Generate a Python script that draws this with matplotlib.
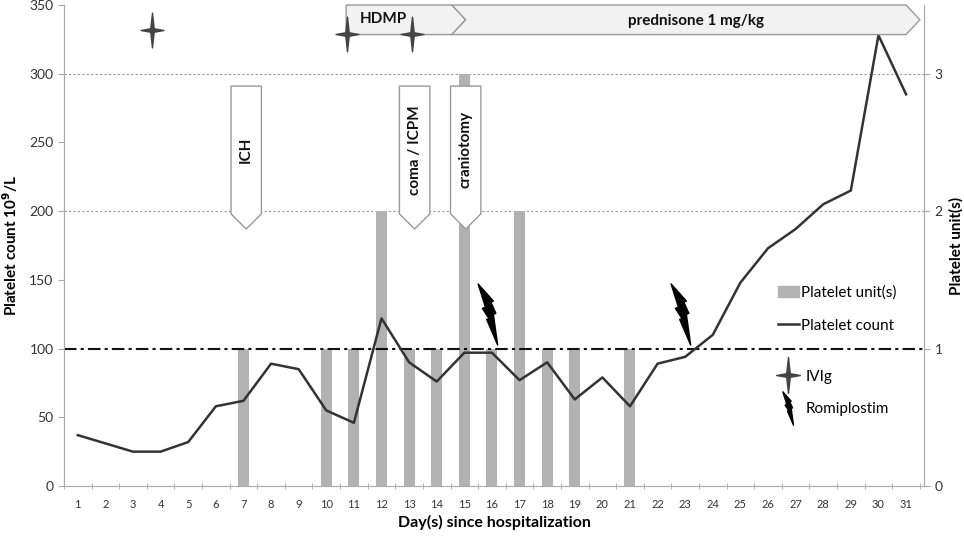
import matplotlib.pyplot as plt
import numpy as np
from matplotlib.path import Path
from matplotlib.patches import Polygon, Patch
from matplotlib.lines import Line2D

plt.rcParams['font.family'] = ['Lato', 'DejaVu Sans']

# data
days = np.arange(1, 32)
platelet_count = [37, 31, 25, 25, 32, 58, 62, 89, 85, 55, 46, 122, 90, 76, 97,
                  97, 77, 90, 63, 79, 58, 89, 94, 110, 148, 173, 187, 205, 215, 328, 285]
unit_days = [7, 10, 11, 12, 13, 14, 15, 16, 17, 18, 19, 21]
units = [1, 1, 1, 2, 1, 1, 3, 1, 2, 1, 1, 1]

ivig_days = [3.7, 10.75, 13.1]
ivig_level = [332, 329, 329]
romi_days = [15.85, 22.85]
romi_level = [125, 125]

event_days = [7.1, 13.2, 15.05]
event_labels = ['ICH', 'coma / ICPM', 'craniotomy']

treat_labels = ['HDMP', 'prednisone 1 mg/kg']
treat_start = [10.72, 14.55]
treat_end = [14.55, 31.0]

# marker shapes
star = Path([(0, 0.5), (0.05, 0.05), (0.33, 0), (0.05, -0.05), (0, -0.5),
             (-0.05, -0.05), (-0.33, 0), (-0.05, 0.05), (0, 0.5)],
            [Path.MOVETO] + [Path.LINETO] * 7 + [Path.CLOSEPOLY])
bolt = Path([(-0.17, 0.5), (0.08, 0.22), (0.04, 0.2), (0.12, 0.02), (0.08, 0.0),
             (0.15, -0.5), (-0.03, -0.08), (0.01, -0.07), (-0.1, 0.1), (-0.05, 0.12),
             (-0.17, 0.5)],
            [Path.MOVETO] + [Path.LINETO] * 9 + [Path.CLOSEPOLY])

fig = plt.figure(figsize=(9.64, 5.41), dpi=100)
ax = fig.add_axes([64 / 964, 1 - 486 / 541, 860 / 964, 481 / 541])
ax2 = ax.twinx()
ax.set_zorder(ax2.get_zorder() + 1)
ax.patch.set_visible(False)

# right axis: units + grid
ax2.bar(unit_days, units, width=0.4, color='#b2b2b2', zorder=2)
ax2.set_ylim(0, 3.5)
ax2.set_yticks([0, 1, 2, 3])
for v in [2, 3]:
    ax2.axhline(v, color='#999999', lw=0.8, ls=(0, (2, 2)), zorder=1)
ax2.axhline(1, color='#111111', lw=1.5, ls=(0, (6, 2, 1.5, 2)), zorder=3)

# left axis: platelet count
ax.plot(days, platelet_count, color='#333333', lw=1.8, zorder=4)
ax.set_xlim(0.5, 31.65)
ax.set_ylim(0, 350)
ax.set_yticks(np.arange(0, 351, 50))
ax.set_xticks(days)
ax.set_xticks(np.arange(0.5, 32, 1), minor=True)

for a in (ax, ax2):
    a.spines['top'].set_visible(False)
    for s in a.spines.values():
        s.set_color('#aaaaaa')
ax.spines['bottom'].set_linestyle((0, (2, 1)))
ax2.spines['bottom'].set_visible(False)
ax.tick_params(axis='y', colors='#aaaaaa', labelcolor='#333333', labelsize=10, length=4)
ax.tick_params(axis='x', which='major', length=0, labelsize=8, labelcolor='#333333', pad=9)
ax.tick_params(axis='x', which='minor', length=4, direction='inout', color='#aaaaaa')
ax2.tick_params(axis='y', colors='#aaaaaa', labelcolor='#333333', labelsize=10, length=4)

ax.set_xlabel('Day(s) since hospitalization', fontsize=11.5, fontweight='bold', labelpad=4)
ax.set_ylabel(r'Platelet count 10$^{\mathbf{9}}$/L', fontsize=11, fontweight='bold')
ax2.set_ylabel('Platelet unit(s)', fontsize=11, fontweight='bold')
ax.yaxis.set_label_coords(-0.051, 0.5)
ax2.yaxis.set_label_coords(1.029, 0.5)

# markers
ax.plot(ivig_days, ivig_level, ls='none', marker=star, ms=25, color='#444444', zorder=6, clip_on=False)
ax.plot(romi_days, romi_level, ls='none', marker=bolt, ms=44, color='#000000', zorder=6)

# event arrows (pointing down)
hw, top, body, tip = 0.55, 291, 198, 187
for d, lab in zip(event_days, event_labels):
    poly = Polygon([(d - hw, top), (d + hw, top), (d + hw, body), (d, tip), (d - hw, body)],
                   closed=True, fc='white', ec='#999999', lw=1, zorder=7)
    ax.add_patch(poly)
    ax.text(d, (top + body) / 2, lab, rotation=90, ha='center', va='center',
            fontsize=11, fontweight='bold', color='#111111', zorder=8)

# treatment chevrons
y0, y1, dep = 328.5, 350, 0.5
ym = (y0 + y1) / 2
for i, (s, e, lab) in enumerate(zip(treat_start, treat_end, treat_labels)):
    if i == 0:
        pts = [(s, y1), (e, y1), (e + dep, ym), (e, y0), (s, y0)]
    else:
        pts = [(s, y1), (e, y1), (e + dep, ym), (e, y0), (s, y0), (s + dep, ym)]
    ax.add_patch(Polygon(pts, closed=True, fc='#f2f2f2', ec='#999999', lw=1,
                         zorder=5, clip_on=False))
ax.text(11.2, 340, treat_labels[0], ha='left', va='center', fontsize=11,
        fontweight='bold', color='#111111', zorder=8)
ax.text(23.4, 338, treat_labels[1], ha='center', va='center', fontsize=11,
        fontweight='bold', color='#111111', zorder=8)

# legends
h1 = [Patch(color='#b2b2b2'), Line2D([], [], color='#333333', lw=1.8)]
leg1 = ax.legend(h1, ['Platelet unit(s)', 'Platelet count'], loc='upper left',
                 bbox_to_anchor=(0.821, 0.432), frameon=False, fontsize=11,
                 handlelength=1.4, handletextpad=0.1, labelspacing=1.2, borderpad=0)
ax.add_artist(leg1)
h2 = [Line2D([], [], ls='none', marker=star, ms=26, color='#444444'),
      Line2D([], [], ls='none', marker=bolt, ms=24, color='#000000')]
ax.legend(h2, ['IVIg', 'Romiplostim'], loc='upper left', bbox_to_anchor=(0.822, 0.258),
          frameon=False, fontsize=11, handlelength=1.3, handletextpad=0.45,
          labelspacing=1.2, borderpad=0)

fig.savefig('out.png', dpi=100)
